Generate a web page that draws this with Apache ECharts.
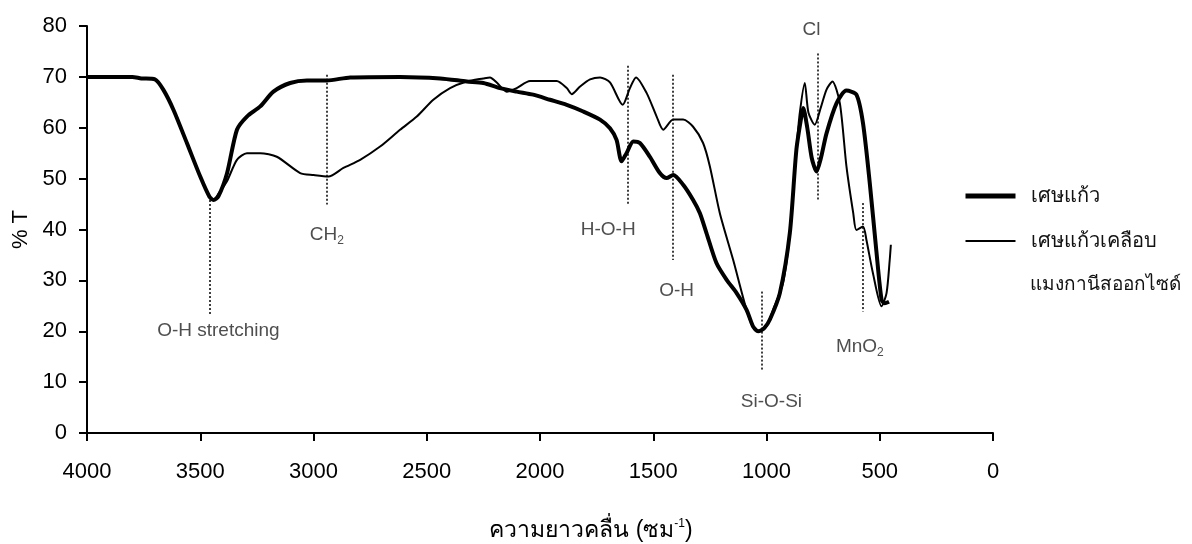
<!DOCTYPE html>
<html><head><meta charset="utf-8">
<script src="https://cdn.jsdelivr.net/npm/echarts@6/dist/echarts.min.js"></script>
<style>html,body{margin:0;padding:0;background:#fff}#c{width:1192px;height:544px}</style>
</head><body><div id="c"></div>
<script>
// Wavenumber (cm^-1) and %T for the two spectra
const glassWN = [4000,3900,3800,3760,3700,3662,3618,3559,3500,3460,3441,3420,3382,3338,3294,3235,3177,3103,3029,2941,2838,2618,2441,2323,2250,2177,2103,2030,1956,1882,1809,1735,1691,1662,1640,1618,1588,1559,1515,1471,1441,1412,1368,1324,1294,1265,1221,1176,1132,1088,1059,1037,1010,985,941,897,868,845,838,820,800,779,760,735,691,647,603,574,544,515,492,478,459];
const glassT = [70.0,70.0,70.0,69.7,69.5,67.4,63.5,57.0,50.4,46.5,45.8,46.5,51.0,59.6,62.2,64.2,67.1,68.8,69.3,69.3,69.9,70.0,69.7,69.1,68.8,67.8,67.1,66.5,65.5,64.5,63.2,61.6,59.9,57.6,53.4,55.0,57.3,57.0,54.3,51.1,50.1,50.7,48.8,45.8,43.2,39.3,33.4,30.1,27.5,24.2,20.9,20.0,20.6,22.3,27.5,39.3,55.7,62.5,63.9,60.0,54.0,51.4,54.0,58.9,64.8,67.3,66.5,60.9,49.1,35.8,26.2,25.5,25.8];
const coatWN = [4000,3900,3800,3760,3700,3662,3618,3559,3500,3460,3441,3420,3382,3338,3294,3235,3162,3059,3000,2934,2868,2794,2706,2618,2544,2471,2397,2323,2250,2221,2191,2147,2103,2044,1926,1882,1860,1823,1779,1735,1691,1635,1603,1576,1529,1485,1456,1412,1368,1324,1280,1250,1206,1147,1088,1059,1029,1000,971,927,897,868,853,831,815,787,760,735,709,676,647,617,603,574,559,530,492,470,456,451];
const coatT = [70.0,70.0,70.0,69.7,69.5,67.4,63.5,57.0,50.4,46.5,45.8,47.0,49.5,53.7,55.0,55.0,54.3,51.1,50.7,50.4,52.1,53.7,56.3,59.6,62.2,65.5,67.8,69.1,69.7,69.9,68.9,67.1,67.8,69.2,69.2,67.8,66.6,68.1,69.5,69.9,68.9,64.5,67.8,69.9,66.8,62.2,59.6,61.6,61.6,60.2,57.0,52.4,43.2,34.0,24.2,20.9,20.0,21.0,24.2,29.5,39.3,55.7,62.9,68.8,63.0,60.6,64.0,67.5,69.1,64.8,52.4,43.2,39.9,40.6,38.0,31.4,24.9,27.5,34.0,37.0];

const seriesNames = ['เศษแก้ว', 'เศษแก้วเคลือบ'];
const legendExtraLine = 'แมงกานีสออกไซด์';

// Peak annotations
const annoNames = ['O-H stretching','CH2','H-O-H','O-H','Si-O-Si','Cl','MnO2'];
const annoLineX = [3459,2941,1613,1412,1019,772,576];
const annoLineTop = [45.8,70.4,72.2,70.4,27.8,74.6,45.2];
const annoLineBottom = [23.2,44.9,44.9,34.0,12.4,45.8,23.9];
const annoLabelX = [3420,2941,1699,1397,978,801,588];
const annoLabelY = [20.0,39.0,40.0,28.0,6.2,79.2,17.0];

const xTicks = {min: 0, max: 4000, interval: 500};
const yTicks = {min: 0, max: 80, interval: 10};

const zip = (a, b) => a.map((v, i) => [v, b[i]]);
const NUMFONT = '"Liberation Sans", Arial, sans-serif';

const chart = echarts.init(document.getElementById('c'), null, {renderer: 'canvas'});
chart.setOption({
  animation: false,
  backgroundColor: '#fff',
  grid: {left: 87, right: 199, top: 26, bottom: 111, outerBoundsMode: 'none', containLabel: false},
  legend: {
    orient: 'vertical', left: 958, top: 181,
    itemWidth: 50, itemHeight: 14, itemGap: 25,
    itemStyle: {opacity: 0},
    textStyle: {fontSize: 20, color: '#111', fontFamily: NUMFONT, padding: [0, 0, 0, 10]},
    data: [
      {name: seriesNames[0], lineStyle: {width: 5, color: '#000'}},
      {name: seriesNames[1], lineStyle: {width: 2, color: '#000'}}
    ]
  },
  graphic: [{
    type: 'text', left: 1030, top: 275,
    style: {text: legendExtraLine, fontSize: 19, fill: '#111', fontFamily: NUMFONT}
  }],
  xAxis: {
    type: 'value', inverse: true, min: xTicks.min, max: xTicks.max, interval: xTicks.interval,
    splitLine: {show: false},
    axisLine: {onZero: false, lineStyle: {color: '#000', width: 2}},
    axisTick: {length: 8, lineStyle: {color: '#000', width: 2}},
    axisLabel: {margin: 28, fontSize: 22, color: '#000', fontFamily: NUMFONT, formatter: v => String(v)},
    name: '{n|ความยาวคลื่น (ซม}{p|-1}{n|)}',
    nameLocation: 'middle', nameGap: 85,
    nameTextStyle: {
      padding: [0, 0, 0, 102],
      rich: {
        n: {fontSize: 23, color: '#000', fontFamily: NUMFONT, lineHeight: 26},
        p: {fontSize: 12, color: '#000', fontFamily: NUMFONT, verticalAlign: 'top', lineHeight: 26, padding: [0,0,10,0]}
      }
    }
  },
  yAxis: {
    type: 'value', position: 'left', min: yTicks.min, max: yTicks.max, interval: yTicks.interval,
    splitLine: {show: false},
    axisLine: {show: true, onZero: false, lineStyle: {color: '#000', width: 2}},
    axisTick: {show: true, length: 8, lineStyle: {color: '#000', width: 2}},
    axisLabel: {margin: 20, fontSize: 22, color: '#000', fontFamily: NUMFONT},
    name: '% T', nameLocation: 'middle', nameRotate: 90, nameGap: 52,
    nameTextStyle: {fontSize: 22, color: '#000', fontFamily: NUMFONT}
  },
  series: [
    {
      name: seriesNames[0], type: 'line', data: zip(glassWN, glassT),
      symbol: 'none', smooth: 0.25, z: 3,
      lineStyle: {color: '#000', width: 4}, itemStyle: {color: '#000'}
    },
    {
      name: seriesNames[1], type: 'line', data: zip(coatWN, coatT),
      symbol: 'none', smooth: 0.25, z: 4,
      lineStyle: {color: '#000', width: 2}, itemStyle: {color: '#000'},
      markLine: {
        silent: true, symbol: 'none', label: {show: false},
        lineStyle: {type: [2, 2], color: '#000', width: 1.5},
        data: annoLineX.map((x, i) => [{coord: [x, annoLineTop[i]]}, {coord: [x, annoLineBottom[i]]}])
      }
    },
    {
      name: 'annotations', type: 'scatter', symbolSize: 0, silent: true, z: 5,
      data: annoNames.map((n, i) => ({name: n, value: [annoLabelX[i], annoLabelY[i]]})),
      label: {
        show: true, position: 'inside',
        formatter: p => {
          const m = p.name.match(/^(.*?)(\d+)$/);
          return m ? `{n|${m[1]}}{s|${m[2]}}` : `{n|${p.name}}`;
        },
        rich: {
          n: {fontSize: 19, color: '#222', fontFamily: NUMFONT, lineHeight: 24},
          s: {fontSize: 12, color: '#222', fontFamily: NUMFONT, lineHeight: 24, verticalAlign: 'bottom', padding: [12,0,0,0]}
        }
      }
    }
  ]
});
</script></body></html>
